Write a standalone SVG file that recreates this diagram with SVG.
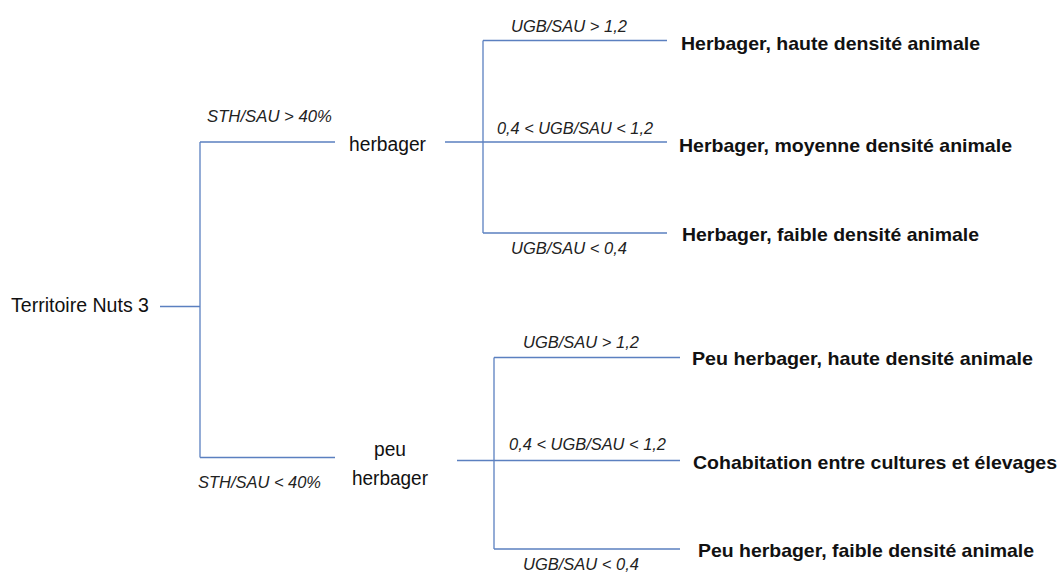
<svg xmlns="http://www.w3.org/2000/svg" width="1061" height="572" viewBox="0 0 1061 572">
<style>
.bg{fill:#ffffff}
.ln{fill:none;stroke:#5b80c0;stroke-width:1.3}
.nd{font-family:"Liberation Sans",Arial,sans-serif;font-size:20px;fill:#111}
.lf{font-family:"Liberation Sans",Arial,sans-serif;font-size:19px;font-weight:bold;fill:#111}
.el{font-family:"Liberation Sans",Arial,sans-serif;font-size:16px;font-style:italic;fill:#222}
</style>
<rect class="bg" x="0" y="0" width="1061" height="572"/>
<g id="connectors">
  <path class="ln" d="M160 306.5H200M200 142V457.5M200 142H335M200 457.5H335"/>
  <path class="ln" d="M445 142H667M483 40.5V233M483 40.5H667M483 233H667"/>
  <path class="ln" d="M457 460.5H680M494 357.5V549M494 357.5H680M494 549H680"/>
</g>
<g id="edge-labels">
  <text class="el" x="207" y="122" textLength="125" lengthAdjust="spacingAndGlyphs">STH/SAU &gt; 40%</text>
  <text class="el" x="198" y="488" textLength="123" lengthAdjust="spacingAndGlyphs">STH/SAU &lt; 40%</text>
  <text class="el" x="511" y="32" textLength="116" lengthAdjust="spacingAndGlyphs">UGB/SAU &gt; 1,2</text>
  <text class="el" x="497" y="134" textLength="156" lengthAdjust="spacingAndGlyphs">0,4 &lt; UGB/SAU &lt; 1,2</text>
  <text class="el" x="511" y="254" textLength="116" lengthAdjust="spacingAndGlyphs">UGB/SAU &lt; 0,4</text>
  <text class="el" x="523" y="348" textLength="116" lengthAdjust="spacingAndGlyphs">UGB/SAU &gt; 1,2</text>
  <text class="el" x="509" y="450" textLength="157" lengthAdjust="spacingAndGlyphs">0,4 &lt; UGB/SAU &lt; 1,2</text>
  <text class="el" x="523" y="570" textLength="116" lengthAdjust="spacingAndGlyphs">UGB/SAU &lt; 0,4</text>
</g>
<g id="node-root">
  <text class="nd" x="11" y="312" textLength="138" lengthAdjust="spacingAndGlyphs">Territoire Nuts 3</text>
</g>
<g id="node-herbager">
  <text class="nd" x="349" y="151" textLength="77" lengthAdjust="spacingAndGlyphs">herbager</text>
</g>
<g id="node-peu-herbager">
  <text class="nd" x="374" y="456" textLength="32" lengthAdjust="spacingAndGlyphs">peu</text>
  <text class="nd" x="352" y="485" textLength="76" lengthAdjust="spacingAndGlyphs">herbager</text>
</g>
<g id="leaf-h-haute">
  <text class="lf" x="681" y="50" textLength="299" lengthAdjust="spacingAndGlyphs">Herbager, haute densité animale</text>
</g>
<g id="leaf-h-moyenne">
  <text class="lf" x="679" y="152" textLength="333" lengthAdjust="spacingAndGlyphs">Herbager, moyenne densité animale</text>
</g>
<g id="leaf-h-faible">
  <text class="lf" x="682" y="241" textLength="297" lengthAdjust="spacingAndGlyphs">Herbager, faible densité animale</text>
</g>
<g id="leaf-p-haute">
  <text class="lf" x="692" y="365" textLength="341" lengthAdjust="spacingAndGlyphs">Peu herbager, haute densité animale</text>
</g>
<g id="leaf-p-cohab">
  <text class="lf" x="693" y="469" textLength="364" lengthAdjust="spacingAndGlyphs">Cohabitation entre cultures et élevages</text>
</g>
<g id="leaf-p-faible">
  <text class="lf" x="698" y="557" textLength="336" lengthAdjust="spacingAndGlyphs">Peu herbager, faible densité animale</text>
</g>
</svg>
